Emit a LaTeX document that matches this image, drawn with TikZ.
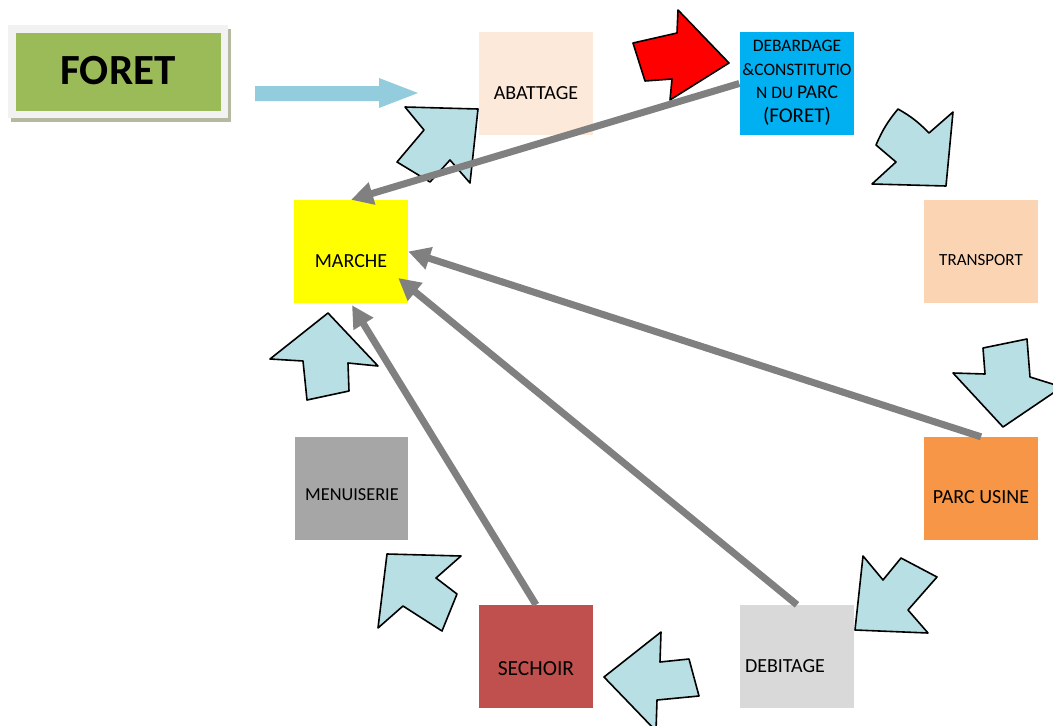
\documentclass[tikz,border=0pt]{standalone}
\usepackage{fontspec}
\setmainfont{Carlito}
\usetikzlibrary{arrows.meta,calc}
\definecolor{cabat}{HTML}{FDE9D9}
\definecolor{cdeb}{HTML}{00B0F0}
\definecolor{ctrans}{HTML}{FBD4B4}
\definecolor{cmarche}{HTML}{FFFF00}
\definecolor{cparc}{HTML}{F79646}
\definecolor{cmenu}{HTML}{A6A6A6}
\definecolor{csech}{HTML}{C0504D}
\definecolor{cdebit}{HTML}{D9D9D9}
\definecolor{cgreen}{HTML}{9BBB59}
\definecolor{cframe}{HTML}{F2F2F2}
\definecolor{cshadow}{HTML}{B4B9A0}
\definecolor{cbent}{HTML}{B8DFE3}
\definecolor{choriz}{HTML}{93CDDD}
\definecolor{cconn}{HTML}{808080}
\definecolor{cred}{HTML}{FF0000}
\begin{document}
\begin{tikzpicture}[x=1pt,y=-1pt,
  box/.style={draw=none,inner sep=0pt,minimum width=114pt,minimum height=103pt},
  lbl/.style={inner sep=0pt,anchor=base,text=black},
  bent/.style={draw=black,line width=1.6pt,line join=round,fill=cbent},
  conn/.style={draw=cconn,line width=7pt,-{Triangle[width=22pt,length=22pt]}}]
\useasboundingbox (0,0) rectangle (1053,726);
\fill[white] (0,0) rectangle (1053,726);

% FORET box
\fill[cshadow] (11,29) rectangle (231,122);
\fill[cframe] (8,25) rectangle (228,118);
\node[box,fill=cgreen,minimum width=205pt,minimum height=78pt] (foret) at (118.5,72) {};
\node[lbl,font=\bfseries\fontsize{43}{47}\selectfont] (tforet) at (118,84) {FORET};

% boxes
\node[box,fill=cabat] (abat) at (536,83.5) {};
\node[box,fill=cdeb] (deb) at (796.5,83.5) {};
\node[box,fill=ctrans] (trans) at (981,251) {};
\node[box,fill=cmarche] (marche) at (351,251.5) {};
\node[box,fill=cparc] (parc) at (981,488.5) {};
\node[box,fill=cmenu,minimum width=113pt] (menu) at (351.5,488.5) {};
\node[box,fill=csech] (sech) at (536,656.5) {};
\node[box,fill=cdebit] (debit) at (797,656.5) {};

% labels
\node[lbl,font=\fontsize{20}{22}\selectfont] (tabat) at (536,99) {ABATTAGE};
\node[lbl,font=\fontsize{17.5}{19}\selectfont] (tdeb1) at (797,51) {DEBARDAGE};
\node[lbl,font=\fontsize{17.5}{19}\selectfont] (tdeb2) at (797,75) {\&CONSTITUTIO};
\node[lbl] (tdeb3) at (797,98) {\fontsize{17.5}{19}\selectfont N DU \fontsize{19.5}{21}\selectfont PARC};
\node[lbl,font=\fontsize{21}{23}\selectfont] (tdeb4) at (797,122) {(FORET)};
\node[lbl,font=\fontsize{17}{19}\selectfont] (ttrans) at (981,265) {TRANSPORT};
\node[lbl,font=\fontsize{20}{22}\selectfont] (tmarche) at (351,267) {MARCHE};
\node[lbl,font=\fontsize{20}{22}\selectfont] (tparc) at (981,503) {PARC USINE};
\node[lbl,font=\fontsize{18.3}{20}\selectfont] (tmenu) at (352,500) {MENUISERIE};
\node[lbl,font=\fontsize{21.5}{23}\selectfont] (tsech) at (536,675) {SECHOIR};
\node[lbl,font=\fontsize{20}{22}\selectfont] (tdebit) at (785,672) {DEBITAGE};

% horizontal arrow
\fill[choriz] (255,86) -- (379,86) -- (379,78) -- (418,93) -- (379,108) -- (379,101) -- (255,101) -- cycle;

% red arrow
\draw[bent,fill=cred] (678,10) -- (729,63) -- (670,100) -- (672,79) -- (645,81) -- (633,43) -- (677,33) -- cycle;

% bent cycle arrows
\draw[bent] (405,107) -- (478,109) -- (470,183) -- (450,160) -- (430,182) -- (397,162) -- (424,130) -- cycle;
\draw[bent] (898,109) to[bend left=8] (929,133) -- (953,112) -- (946,186) -- (872,184) -- (896,162) -- (876,145) to[bend left=8] cycle;
\draw[bent] (983,348) -- (1027,339) -- (1030,377) -- (1062,387) -- (1003,427) -- (953,373) -- (985,374) -- cycle;
\draw[bent] (863,556) -- (883,580) -- (901,558) -- (937,577) -- (908,610) -- (928,633) -- (855,630) -- cycle;
\draw[bent] (661,632) -- (660,662) -- (689,659) -- (699,696) -- (657,700) -- (656,731) -- (604,677) -- cycle;
\draw[bent] (387,554) -- (461,556) -- (436,578) -- (457,594) -- (442,631) -- (403,606) -- (378,628) -- cycle;
\draw[bent] (328,313) -- (378,366) -- (348,363) -- (349,391) -- (307,400) -- (303,361) -- (270,359) -- cycle;

% gray connectors
\coordinate (m3) at ($(marche.east)+(-10,26.5)$);
\coordinate (m4) at ($(marche.south)+(1,2)$);
\draw[conn] (deb.west) -- (marche.north);
\draw[conn] (parc.north) -- (marche.east);
\draw[conn] (debit.north) -- (m3);
\draw[conn] (sech.north) -- (m4);
\end{tikzpicture}
\end{document}
